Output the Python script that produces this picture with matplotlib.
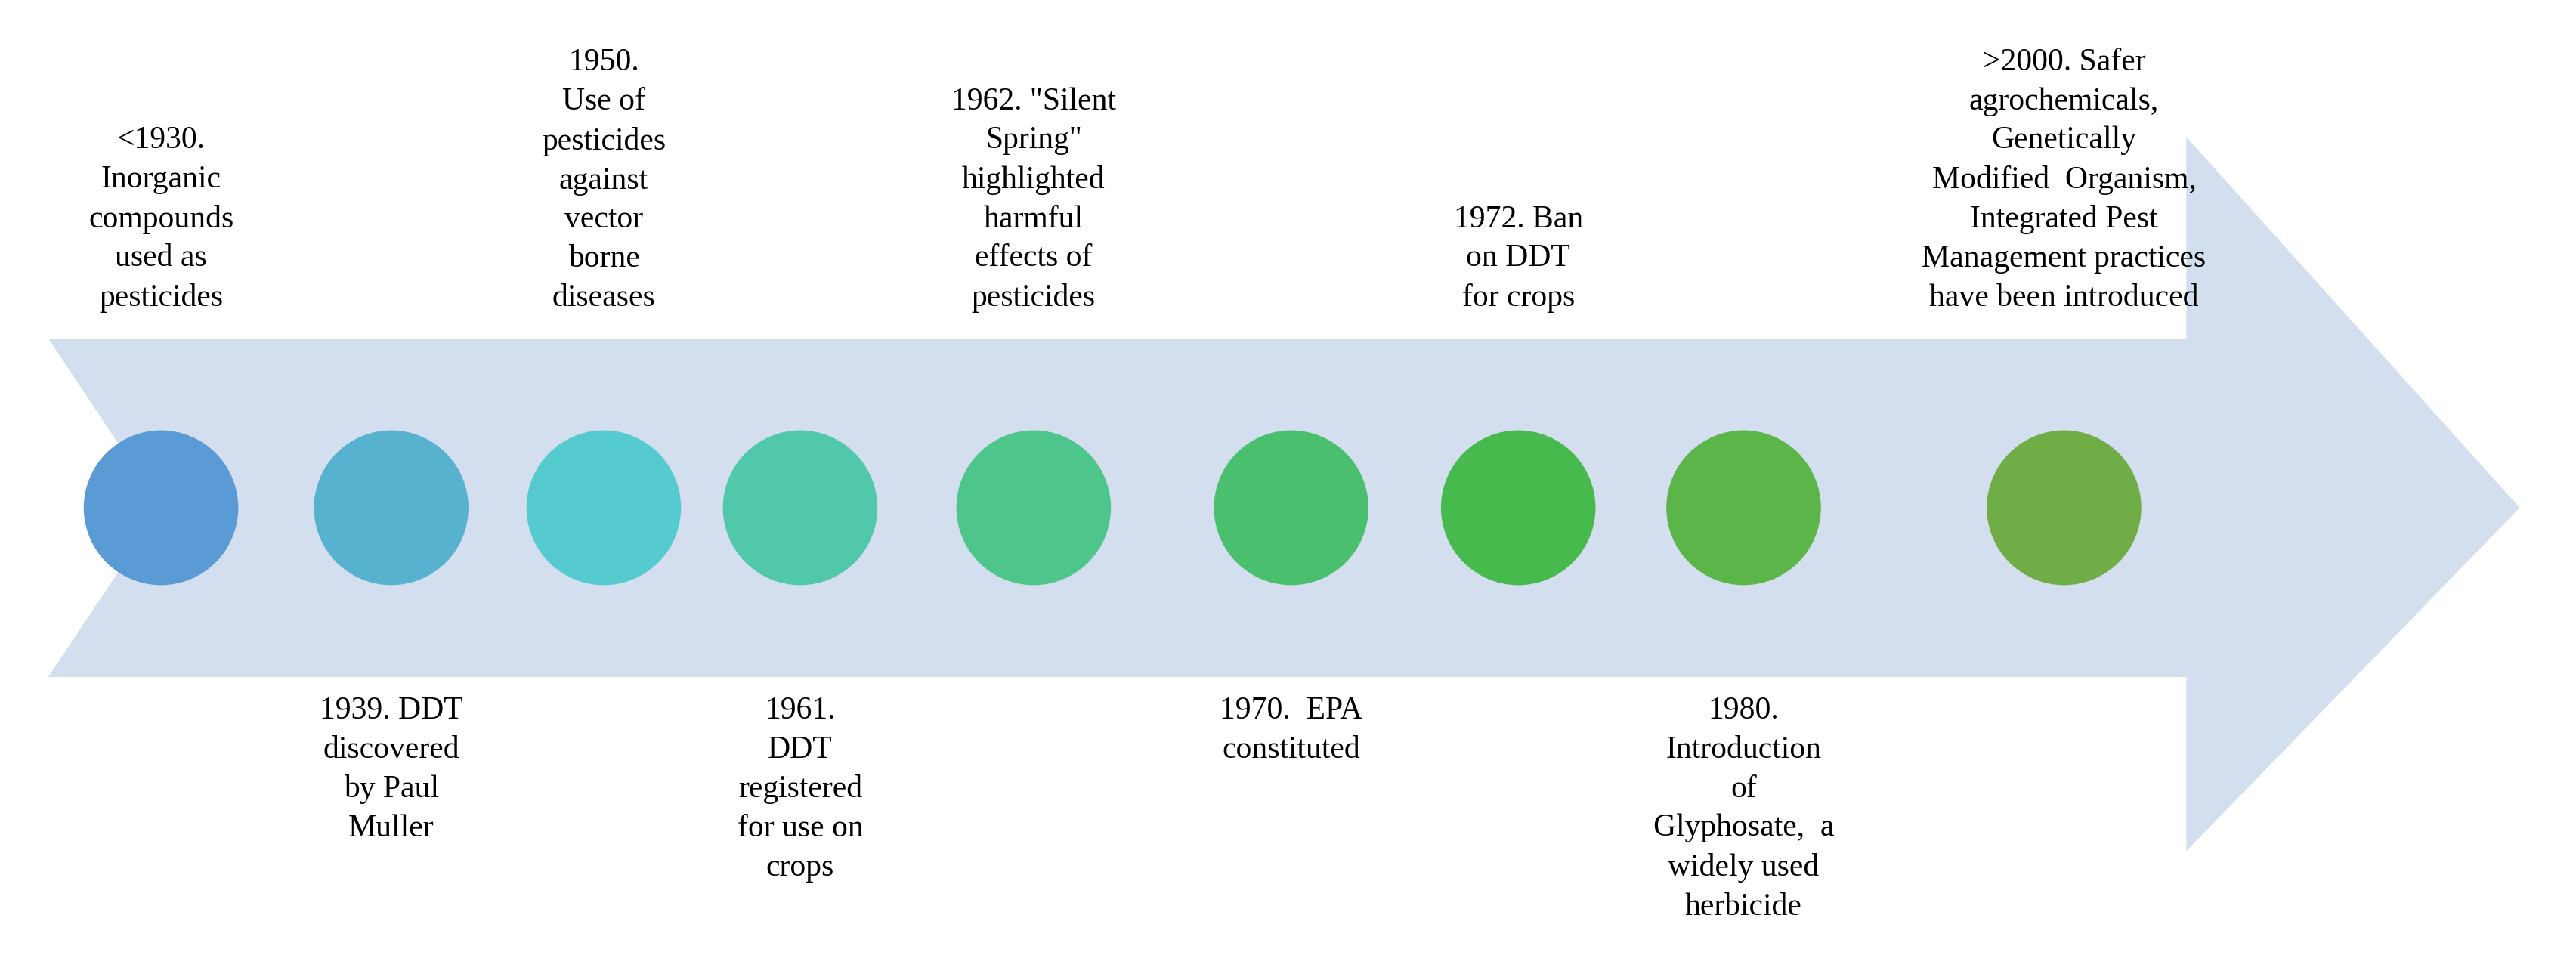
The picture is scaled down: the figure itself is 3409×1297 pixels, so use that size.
import matplotlib.pyplot as plt
from matplotlib.patches import Polygon, Circle

plt.rcParams['font.family'] = ['Liberation Serif', 'DejaVu Serif']

# circle positions (diagram units) and colours
circle_x = [100, 243, 375, 497, 642, 802, 943, 1083, 1282]
circle_colors = ['#5B9BD5', '#57B2D0', '#55CACF', '#51C8A9', '#4EC58B',
                 '#4ABF6E', '#47BA4E', '#5BB548', '#70AD47']

top_x = [100, 375, 642, 943, 1282]
top_labels = [
    "<1930.\nInorganic\ncompounds\nused as\npesticides",
    "1950.\nUse of\npesticides\nagainst\nvector\nborne\ndiseases",
    "1962. \"Silent\nSpring\"\nhighlighted\nharmful\neffects of\npesticides",
    "1972. Ban\non DDT\nfor crops",
    ">2000. Safer\nagrochemicals,\nGenetically\nModified  Organism,\nIntegrated Pest\nManagement practices\nhave been introduced",
]
bottom_x = [243, 497, 802, 1083]
bottom_labels = [
    "1939. DDT\ndiscovered\nby Paul\nMuller",
    "1961.\nDDT\nregistered\nfor use on\ncrops",
    "1970.  EPA\nconstituted",
    "1980.\nIntroduction\nof\nGlyphosate,  a\nwidely used\nherbicide",
]

W, H = 1600, 608
fig = plt.figure(figsize=(34.09, 12.97), dpi=100)
ax = fig.add_axes([0, 0, 1, 1])
ax.set_xlim(0, W)
ax.set_ylim(H, 0)
ax.axis('off')

arrow = [(30, 210), (1358, 210), (1358, 85), (1565, 315), (1358, 528),
         (1358, 420), (30, 420), (100, 315)]
ax.add_patch(Polygon(arrow, closed=True, facecolor='#D3DEEF', edgecolor='none'))

for x, c in zip(circle_x, circle_colors):
    ax.add_patch(Circle((x, 315), 48, facecolor=c, edgecolor='none'))

fs = 30
for x, t in zip(top_x, top_labels):
    ax.text(x, 194, t, ha='center', va='bottom', fontsize=fs, linespacing=1.45)
for x, t in zip(bottom_x, bottom_labels):
    ax.text(x, 432, t, ha='center', va='top', fontsize=fs, linespacing=1.45)

fig.savefig('out.png', dpi=100)
